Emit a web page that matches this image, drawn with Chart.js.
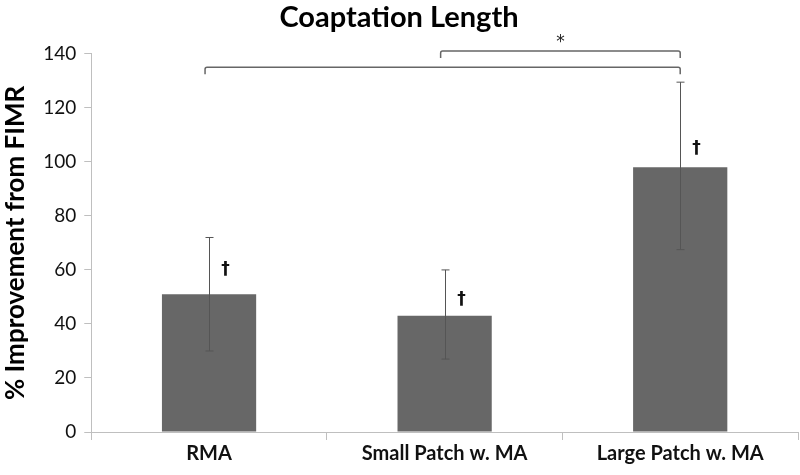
<!DOCTYPE html>
<html>
<head>
<meta charset="utf-8">
<script src="https://cdn.jsdelivr.net/npm/chart.js@4/dist/chart.umd.min.js"></script>
<style>
  html, body { margin: 0; padding: 0; background: #fff; }
  #wrap { width: 800px; height: 475px; }
</style>
</head>
<body>
<div id="wrap"><canvas id="chart1"></canvas></div>
<script>
const FONT = "Lato, 'Open Sans', sans-serif";
const categorias = ['RMA', 'Small Patch w. MA', 'Large Patch w. MA'];
const mejora = [51, 43, 98];
const errAlto = [72, 60, 129.5];
const errBajo = [30, 27, 67.5];
const dagas = [60, 49, 105];           // altura del simbolo † sobre cada barra
const yTicks = [0, 20, 40, 60, 80, 100, 120, 140];
// corchetes de significancia: [desde, hasta, altura, texto]
const corchetes = [
  [0, 2, 135, ''],
  [1, 2, 141, '*']
];

// dibuja barras de error, dagas y corchetes usando las escalas
const extras = {
  id: 'extras',
  afterDatasetsDraw(chart) {
    const ctx = chart.ctx;
    const x = chart.scales.x, y = chart.scales.y;
    ctx.save();
    ctx.strokeStyle = '#555';
    ctx.lineWidth = 1;
    for (let i = 0; i < mejora.length; i++) {
      const cx = Math.round(x.getPixelForValue(i)) + 0.5;
      const yt = y.getPixelForValue(errAlto[i]);
      const yb = y.getPixelForValue(errBajo[i]);
      ctx.beginPath();
      ctx.moveTo(cx, yt); ctx.lineTo(cx, yb);
      ctx.moveTo(cx - 4, yt); ctx.lineTo(cx + 4, yt);
      ctx.moveTo(cx - 4, yb); ctx.lineTo(cx + 4, yb);
      ctx.stroke();
      ctx.fillStyle = '#111';
      ctx.font = "bold 17px 'DejaVu Sans', sans-serif";
      ctx.textAlign = 'center';
      ctx.textBaseline = 'middle';
      ctx.fillText('\u2020', cx + 16, y.getPixelForValue(dagas[i]));
    }
    ctx.strokeStyle = '#666';
    ctx.lineWidth = 1.5;
    for (let c of corchetes) {
      const x1 = x.getPixelForValue(c[0]) - 4;
      const x2 = x.getPixelForValue(c[1]);
      const yy = y.getPixelForValue(c[2]);
      ctx.beginPath();
      ctx.moveTo(x1, yy + 7);
      ctx.lineTo(x1, yy + 2);
      ctx.quadraticCurveTo(x1, yy, x1 + 2, yy);
      ctx.lineTo(x2 - 2, yy);
      ctx.quadraticCurveTo(x2, yy, x2, yy + 2);
      ctx.lineTo(x2, yy + 7);
      ctx.stroke();
      if (c[3]) {
        ctx.fillStyle = '#222';
        ctx.font = "17px 'DejaVu Sans', sans-serif";
        ctx.textAlign = 'center';
        ctx.textBaseline = 'middle';
        ctx.fillText(c[3], (x1 + x2) / 2, yy - 9);
      }
    }
    ctx.restore();
  }
};

const canva1 = document.getElementById('chart1').getContext('2d');
new Chart(canva1, {
  type: 'bar',
  data: {
    labels: categorias,
    datasets: [{
      label: 'Mejora',
      data: mejora,
      backgroundColor: '#676767',
      barPercentage: 0.4,
      categoryPercentage: 1
    }]
  },
  options: {
    responsive: true,
    maintainAspectRatio: false,
    animation: false,
    layout: { padding: { left: 0, right: 2, top: 0, bottom: 7 } },
    plugins: {
      legend: { display: false },
      tooltip: { enabled: false },
      title: {
        display: true,
        text: 'Coaptation Length',
        color: '#000',
        font: { family: FONT, size: 29, weight: 'bold' },
        padding: { top: 0, bottom: 19 }
      }
    },
    scales: {
      x: {
        grid: { drawOnChartArea: false, color: '#bfbfbf', tickLength: 8, offset: true },
        border: { color: '#bfbfbf' },
        ticks: { color: '#111', font: { family: FONT, size: 20, weight: 'bold' }, padding: 2 }
      },
      y: {
        min: 0,
        max: 140,
        afterBuildTicks(axis) { axis.ticks = yTicks.map(v => ({ value: v })); },
        grid: { drawOnChartArea: false, color: '#bfbfbf', tickLength: 7 },
        border: { color: '#bfbfbf' },
        ticks: { color: '#111', font: { family: FONT, size: 19 }, padding: 8 },
        title: {
          display: true,
          text: '% Improvement from FIMR',
          color: '#000',
          font: { family: FONT, size: 26, weight: 'bold' },
          padding: { top: 0, bottom: 4 }
        }
      }
    }
  },
  plugins: [extras]
});
</script>
</body>
</html>
